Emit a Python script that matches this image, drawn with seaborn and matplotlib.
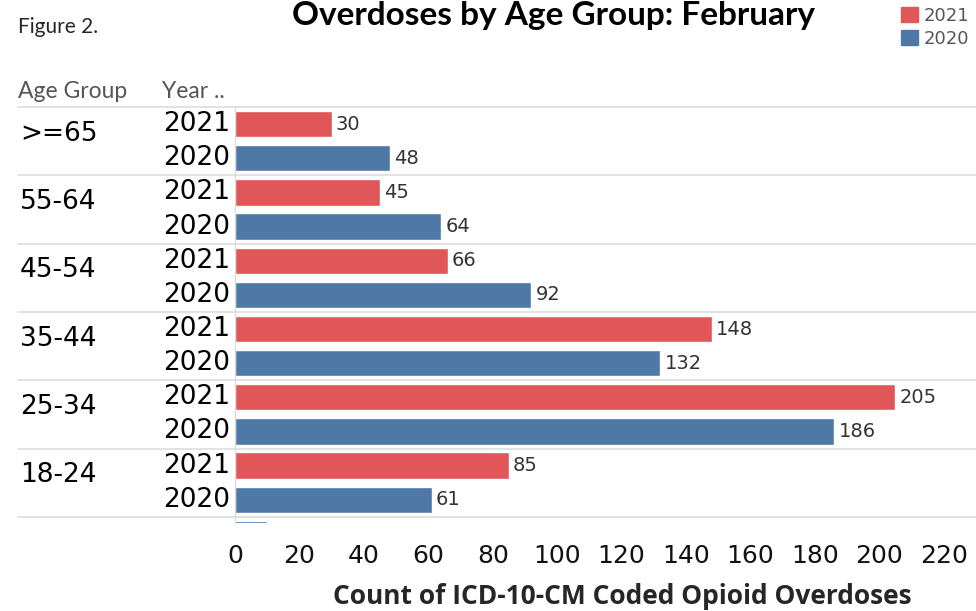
import matplotlib
matplotlib.use("Agg")
import matplotlib.pyplot as plt
import matplotlib.transforms as mtransforms
from matplotlib.patches import Patch
import seaborn as sns
import pandas as pd

# data (last group is cut off by the scroll area)
age_groups = [">=65", "55-64", "45-54", "35-44", "25-34", "18-24", "<18"]
years = ["2021", "2020"]
counts_2021 = [30, 45, 66, 148, 205, 85, None]
counts_2020 = [48, 64, 92, 132, 186, 61, 10]
xticks = [0, 20, 40, 60, 80, 100, 120, 140, 160, 180, 200, 220]

colors = {"2021": "#e15759", "2020": "#4e79a7"}

rows = []
for g, a, b in zip(age_groups, counts_2021, counts_2020):
    for yr, v in zip(years, [a, b]):
        if v is not None:
            rows.append({"group": g, "year": yr, "row": g + "|" + yr, "count": v})
df = pd.DataFrame(rows)

sns.set_style("white")
W, H = 976, 611
fig = plt.figure(figsize=(W / 100, H / 100), dpi=100)

top_px, bot_px, left_px = 107, 523, 235
ax = fig.add_axes([left_px / W, (H - bot_px) / H, (W - left_px) / W, (bot_px - top_px) / H])

sns.barplot(data=df, y="row", x="count", hue="year", order=list(df["row"]),
            hue_order=years, palette=colors, dodge=False, width=0.77,
            orient="h", ax=ax, legend=False, saturation=1)

for c in ax.containers:
    ax.bar_label(c, padding=3, fontsize=14, color="#333333")

ax.set_xlim(0, 230)
ax.set_ylim(11.68, -0.5)
ax.set_xticks(xticks)
ax.set_xticklabels([str(t) for t in xticks], fontsize=18, color="#111111")
ax.tick_params(axis="x", direction="out", length=8, color="#e0e0e0", pad=7)
ax.set_yticks([])
ax.set_ylabel("")
ax.set_xlabel("Count of ICD-10-CM Coded Opioid Overdoses", fontsize=19,
              fontweight="bold", family="Open Sans")
ax.xaxis.set_label_coords((622 - left_px) / (W - left_px), -(597 - bot_px) / (bot_px - top_px))
ax.xaxis.label.set_va("center")

for s in ["top", "right", "bottom"]:
    ax.spines[s].set_visible(False)
ax.spines["left"].set_color("#d8d8d8")

# row headers on the left (only rows inside the visible area)
trans = mtransforms.blended_transform_factory(fig.transFigure, ax.transData)
for i, r in df.iterrows():
    if i < 11.5:
        ax.text(230 / W, i, r["year"], transform=trans, ha="right", va="center",
                fontsize=19, color="black", clip_on=False)
first_rows = df.reset_index().groupby("group", sort=False)["index"].min()
for g, i in first_rows.items():
    if i < 11.5:
        ax.text(20 / W, i + 0.28, g, transform=trans, ha="left", va="center",
                fontsize=19, color="black")

# group separator lines
n_groups = 6
for k in range(n_groups + 1):
    y = -0.5 + 2 * k
    ax.plot([18 / W, 1.0], [y, y], transform=trans, color="#dddddd", lw=1.2,
            clip_on=False)

fig.text(18 / W, (H - 92) / H, "Age Group", fontsize=16.5, color="#555555",
         family="Lato", va="center")
fig.text(162 / W, (H - 92) / H, "Year ..", fontsize=16.5, color="#555555",
         family="Lato", va="center")

fig.text(18 / W, (H - 27) / H, "Figure 2.", fontsize=15, family="Lato", va="center")
fig.text(553 / W, (H - 16) / H, "Overdoses by Age Group: February", fontsize=24,
         fontweight="bold", family="Lato", ha="center", va="center", color="black")

handles = [Patch(color=colors[y]) for y in years]
fig.legend(handles, years, loc="upper right", bbox_to_anchor=(1.0, 1.0),
           frameon=False, fontsize=13, labelcolor="#555555", handlelength=0.9,
           handleheight=0.9, handletextpad=0.3, labelspacing=0.25, borderaxespad=0.1,
           borderpad=0.3)

fig.savefig("out.png", dpi=100)
